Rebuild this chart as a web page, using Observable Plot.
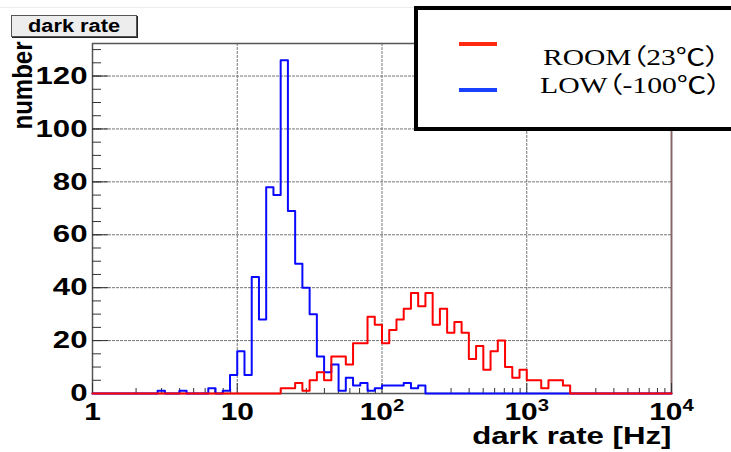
<!DOCTYPE html>
<html>
<head>
<meta charset="utf-8">
<script src="https://cdn.jsdelivr.net/npm/d3@7"></script>
<script src="https://cdn.jsdelivr.net/npm/@observablehq/plot@0.6"></script>
<style>
  html, body { margin: 0; padding: 0; background: #fff; }
  #chart { position: relative; width: 731px; height: 452px; overflow: hidden; background: #fff; }
  #chart svg { position: absolute; left: 0; top: 0; }
  .topline { position: absolute; left: 0; top: 7px; width: 414px; height: 1px; background: #ececec; }
  .titlebox {
    position: absolute; left: 11px; top: 15px; width: 126px; height: 22px; box-sizing: border-box;
    background: #ededed; border: 1px solid #555; box-shadow: 1px 1px 0 #222;
    display: flex; align-items: center; justify-content: center; overflow: visible;
  }
  .titlebox span {
    display: inline-block; font: bold 18px "Liberation Sans", Arial, sans-serif; line-height: 18px;
    white-space: nowrap; transform-origin: center;
  }
  .legendbox {
    position: absolute; left: 414px; top: 6px; width: 340px; height: 125px; box-sizing: border-box;
    border: 4px solid #000; background: #fff;
  }
  .swatch { position: absolute; height: 4px; width: 38px; }
  .legtext {
    position: absolute; display: inline-block; white-space: nowrap;
    font: 23px "Liberation Serif", "Noto Sans CJK SC", serif; line-height: 23px; color: #000;
    font-feature-settings: "palt"; transform-origin: left center;
  }
</style>
</head>
<body>
<div id="chart"></div>
<script>
// Dark-rate histograms: 80 log-spaced bins from 1 Hz to 10^4 Hz
const binCount = 80;
const rateRange = [1, 1e4];
const yMax = 132.3;

// counts per bin, room temperature
const roomCounts = [
  0, 0, 0, 0, 0, 0, 0, 0, 0, 0,
  0, 0, 0, 0, 0, 0, 0, 0, 0, 0,
  0, 0, 0, 0, 0, 0, 2, 2, 4, 1,
  5, 8, 5, 14, 14, 11, 19, 19, 29, 26,
  19, 24, 28, 32, 38, 33, 38, 26, 32, 23,
  27, 23, 13, 18, 9, 16, 20, 10, 6, 9,
  5, 5, 2, 5, 5, 3, 0, 0, 0, 0,
  0, 0, 0, 0, 0, 0, 0, 0, 0, 0
];

// counts per bin, cooled to -100 °C
const lowCounts = [
  0, 0, 0, 0, 0, 0, 0, 0, 0, 1,
  0, 0, 1, 0, 0, 0, 2, 0, 1, 7,
  16, 7, 44, 28, 78, 75, 126, 69, 49, 40,
  30, 14, 8, 11, 1, 6, 3, 4, 1, 2,
  3, 3, 3, 4, 2, 3, 0, 0, 0, 0,
  0, 0, 0, 0, 0, 0, 0, 0, 0, 0,
  0, 0, 0, 0, 0, 0, 0, 0, 0, 0,
  0, 0, 0, 0, 0, 0, 0, 0, 0, 0
];

const xMajorTicks = [1, 10, 100, 1000, 10000];
const xGridTicks = [10, 100, 1000];
const yMajorTicks = [0, 20, 40, 60, 80, 100, 120];
const yGridTicks = [20, 40, 60, 80, 100, 120];
const xTitle = "dark rate [Hz]";
const yTitle = "number";
const histTitle = "dark rate";
const seriesNames = ["ROOM（23℃）", "LOW（-100℃）"];
const histColors = ["#ff0000", "#0a0aff"];
const swatchColors = ["#ff2a10", "#1a40ff"];

// bin edges on the log axis
const edges = d3.range(binCount + 1).map(i => rateRange[0] * Math.pow(rateRange[1] / rateRange[0], i / binCount));
const stepPoints = counts => {
  const pts = counts.map((c, i) => ({x: edges[i], y: c}));
  pts.push({x: edges[binCount], y: counts[binCount - 1]});
  return pts;
};

// minor ticks: 2..9 within each decade; every 5 counts on y
const xMinorTicks = d3.range(0, 4).flatMap(e => d3.range(2, 10).map(m => m * Math.pow(10, e)));
const yMinorTicks = d3.range(0, yMax, 5);

const fontFamily = "'Liberation Sans', Arial, Helvetica, sans-serif";
const tickStroke = "#333";

const svg = Plot.plot({
  width: 731,
  height: 452,
  marginLeft: 92,
  marginRight: 60,
  marginTop: 43,
  marginBottom: 59,
  style: {background: "transparent", fontFamily, overflow: "visible"},
  x: {type: "log", domain: rateRange, label: null},
  y: {domain: [0, yMax], label: null},
  marks: [
    Plot.gridX(xGridTicks, {stroke: "#666", strokeOpacity: 0.9, strokeDasharray: "3,1"}),
    Plot.gridY(yGridTicks, {stroke: "#666", strokeOpacity: 0.9, strokeDasharray: "3,1"}),
    Plot.frame({stroke: "#555", strokeWidth: 1.5}),
    Plot.ruleX([rateRange[1]], {stroke: "#8a6464", strokeWidth: 1.5}),
    Plot.axisX(xMinorTicks, {anchor: "bottom", tickSize: -5, text: null, stroke: tickStroke, label: null}),
    Plot.axisX(xMajorTicks, {anchor: "bottom", tickSize: -10, text: null, stroke: tickStroke, label: null}),
    Plot.axisY(yMinorTicks, {anchor: "left", tickSize: -9, text: null, stroke: tickStroke, label: null}),
    Plot.axisY(yMajorTicks, {anchor: "left", tickSize: -16, text: null, stroke: tickStroke, label: null}),
    Plot.axisX(xMajorTicks, {
      anchor: "bottom", tickSize: 0, tickPadding: 10, fontSize: 23, fontWeight: "bold", fill: "#000",
      label: null, tickFormat: d => d < 100 ? String(d) : `10^${Math.round(Math.log10(d))}`
    }),
    Plot.axisY(yMajorTicks, {
      anchor: "left", tickSize: 0, tickPadding: 5, fontSize: 24, fontWeight: "bold", fill: "#000",
      label: null, tickFormat: d => String(d)
    }),
    Plot.line(stepPoints(lowCounts), {x: "x", y: "y", curve: "step-after", stroke: histColors[1], strokeWidth: 2}),
    Plot.line(stepPoints(roomCounts), {x: "x", y: "y", curve: "step-after", stroke: histColors[0], strokeWidth: 2}),
    Plot.text([xTitle], {
      text: d => d, frameAnchor: "bottom-right", textAnchor: "end", lineAnchor: "middle",
      dy: 43, fontSize: 24, fontWeight: "bold", fill: "#000"
    }),
    Plot.text([yTitle], {
      text: d => d, frameAnchor: "top-left", rotate: -90, textAnchor: "end", lineAnchor: "middle",
      dx: -69, dy: -2, fontSize: 24, fontWeight: "bold", fill: "#000"
    })
  ]
});

// exponent labels as superscripts
svg.querySelectorAll("text").forEach(t => {
  const s = t.textContent;
  if (s.includes("^")) {
    const [base, exp] = s.split("^");
    t.textContent = base;
    const sup = document.createElementNS("http://www.w3.org/2000/svg", "tspan");
    sup.setAttribute("dy", "-0.55em");
    sup.setAttribute("font-size", "0.68em");
    sup.textContent = exp;
    t.appendChild(sup);
  }
});

// wide ROOT-style lettering: stretch labels horizontally about their anchor
svg.querySelectorAll("text").forEach(t => {
  const tr = t.getAttribute("transform");
  if (!tr) return;
  if (tr.includes("rotate")) t.setAttribute("transform", tr.replace("rotate", "scale(1.15,1) rotate"));
  else t.setAttribute("transform", tr + " scale(1.3,1)");
});

const chart = document.getElementById("chart");
chart.appendChild(svg);

// faint page rule, title box and legend
const topline = document.createElement("div");
topline.className = "topline";
chart.appendChild(topline);

const titleBox = document.createElement("div");
titleBox.className = "titlebox";
const titleSpan = document.createElement("span");
titleSpan.textContent = histTitle;
titleBox.appendChild(titleSpan);
chart.appendChild(titleBox);

const legendBox = document.createElement("div");
legendBox.className = "legendbox";
chart.appendChild(legendBox);

const legendRows = [
  {name: seriesNames[0], color: swatchColors[0], swatchY: 42, textX: 543, textTop: 46, textWidth: 177},
  {name: seriesNames[1], color: swatchColors[1], swatchY: 88, textX: 540, textTop: 74, textWidth: 182}
];
const fitters = [];
legendRows.forEach(r => {
  const sw = document.createElement("div");
  sw.className = "swatch";
  sw.style.left = "459px";
  sw.style.top = r.swatchY + "px";
  sw.style.background = r.color;
  chart.appendChild(sw);
  const tx = document.createElement("span");
  tx.className = "legtext";
  tx.style.left = r.textX + "px";
  tx.style.top = r.textTop + "px";
  tx.textContent = r.name;
  chart.appendChild(tx);
  fitters.push([tx, r.textWidth]);
});
fitters.push([titleSpan, 92]);
fitters.forEach(([el, w]) => {
  const natural = el.offsetWidth;
  if (natural > 0) el.style.transform = `scaleX(${w / natural})`;
});
</script>
</body>
</html>
